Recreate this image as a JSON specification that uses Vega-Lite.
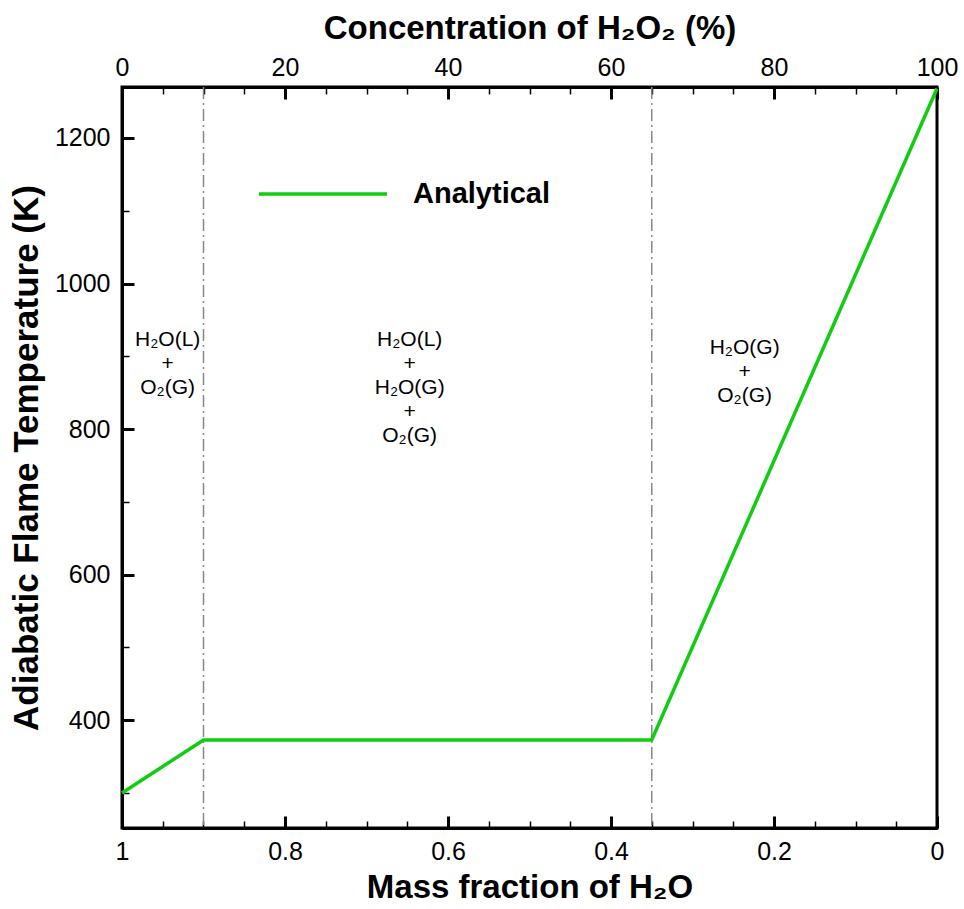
{
  "$schema": "https://vega.github.io/schema/vega-lite/v6.json",
  "width": 815,
  "height": 741,
  "autosize": {"type": "none"},
  "padding": {"left": 122, "top": 87, "right": 27, "bottom": 81},
  "background": "white",
  "config": {
    "view": {"stroke": "black", "strokeWidth": 3},
    "font": "Liberation Sans",
    "axis": {
      "domainColor": "black", "domainWidth": 3,
      "tickColor": "black", "grid": false,
      "labelFont": "Liberation Sans", "labelFontSize": 25, "labelColor": "black",
      "titleFont": "Liberation Sans", "titleFontSize": 33, "titleFontWeight": "bold", "titleColor": "black"
    }
  },
  "resolve": {"scale": {"x": "independent"}},
  "layer": [
    {
      "data": {"values": [{"c": 10}, {"c": 65}]},
      "mark": {"type": "rule", "color": "#888888", "strokeWidth": 1.5, "strokeDash": [12, 4, 2, 4]},
      "encoding": {
        "x": {
          "field": "c", "type": "quantitative",
          "scale": {"domain": [0, 100], "nice": false},
          "axis": {
            "orient": "top",
            "title": "Concentration of H₂O₂ (%)",
            "values": [0,5,10,15,20,25,30,35,40,45,50,55,60,65,70,75,80,85,90,95,100],
            "format": "d",
            "labelExpr": "datum.value % 20 === 0 ? datum.label : ''",
            "tickSize": {"condition": {"test": "datum.value % 20 === 0", "value": -12}, "value": -7},
            "tickWidth": {"condition": {"test": "datum.value % 20 === 0", "value": 3}, "value": 1.5},
            "labelPadding": 19,
            "labelFlush": false,
            "titlePadding": 10
          }
        }
      }
    },
    {
      "data": {"values": [
        {"c": 5.6, "T": 922, "label": "H₂O(L)\n+\nO₂(G)"},
        {"c": 35.3, "T": 922, "label": "H₂O(L)\n+\nH₂O(G)\n+\nO₂(G)"},
        {"c": 76.4, "T": 911, "label": "H₂O(G)\n+\nO₂(G)"}
      ]},
      "mark": {"type": "text", "fontSize": 21, "lineBreak": "\n", "lineHeight": 24, "align": "center", "baseline": "middle", "color": "black", "font": "Liberation Sans"},
      "encoding": {
        "x": {"field": "c", "type": "quantitative", "scale": {"domain": [0, 100], "nice": false}, "axis": null},
        "y": {"field": "T", "type": "quantitative"},
        "text": {"field": "label"}
      }
    },
    {
      "data": {"values": [
        {"w": 1.0, "T": 300, "s": "Analytical"},
        {"w": 0.9, "T": 373, "s": "Analytical"},
        {"w": 0.35, "T": 373, "s": "Analytical"},
        {"w": 0.0, "T": 1268, "s": "Analytical"}
      ]},
      "mark": {"type": "line", "strokeWidth": 3.5},
      "encoding": {
        "x": {
          "field": "w", "type": "quantitative",
          "scale": {"domain": [0, 1], "reverse": true, "nice": false},
          "axis": {
            "orient": "bottom",
            "title": "Mass fraction of H₂O",
            "values": [0,0.05,0.1,0.15,0.2,0.25,0.3,0.35,0.4,0.45,0.5,0.55,0.6,0.65,0.7,0.75,0.8,0.85,0.9,0.95,1],
            "format": "~g",
            "labelExpr": "abs(datum.value*5 - round(datum.value*5)) < 0.001 ? datum.label : ''",
            "tickSize": {"condition": {"test": "abs(datum.value*5 - round(datum.value*5)) < 0.001", "value": -12}, "value": -7},
            "tickWidth": {"condition": {"test": "abs(datum.value*5 - round(datum.value*5)) < 0.001", "value": 3}, "value": 1.5},
            "labelPadding": 23,
            "labelFlush": false,
            "titlePadding": 7
          }
        },
        "y": {
          "field": "T", "type": "quantitative",
          "scale": {"domain": [252, 1270], "nice": false, "zero": false},
          "axis": {
            "title": "Adiabatic Flame Temperature (K)",
            "titleFontSize": 35,
            "values": [300,350,400,450,500,550,600,650,700,750,800,850,900,950,1000,1050,1100,1150,1200,1250],
            "format": "d",
            "labelExpr": "datum.value % 200 === 0 ? datum.label : ''",
            "tickSize": {"condition": {"test": "datum.value % 200 === 0", "value": -12}, "value": -7},
            "tickWidth": {"condition": {"test": "datum.value % 200 === 0", "value": 3}, "value": 1.5},
            "labelPadding": 24,
            "titlePadding": 10
          }
        },
        "color": {
          "field": "s", "type": "nominal",
          "scale": {"range": ["#11cc11"]},
          "legend": {
            "orient": "none", "legendX": 135, "legendY": 41,
            "title": null,
            "symbolType": "stroke", "symbolSize": 16384, "symbolStrokeWidth": 3.5,
            "labelFontSize": 29, "labelFontWeight": "bold", "labelColor": "black",
            "labelOffset": 24, "labelFont": "Liberation Sans"
          }
        }
      }
    }
  ]
}
